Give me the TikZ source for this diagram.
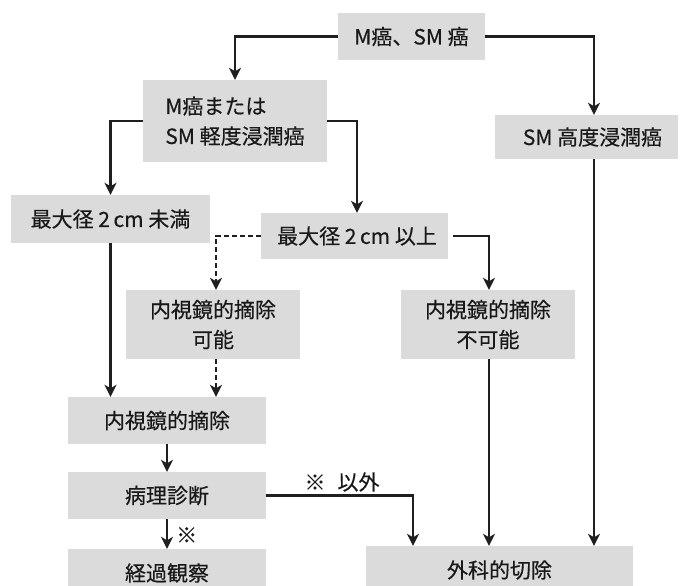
\documentclass[tikz,border=0pt]{standalone}
\usepackage{fontspec}
\setmainfont{Noto Sans CJK JP}[UprightFeatures={FakeBold=0.4}]
\usetikzlibrary{arrows.meta,calc}
\begin{document}
\begin{tikzpicture}[x=1pt,y=-1pt,
  box/.style={draw=none,fill=gray!28,inner sep=0pt,font=\fontsize{21pt}{30pt}\selectfont,align=center,text=black!90},
  conn/.style={draw=black!88,line width=2.8pt},
  arr/.style={conn,-{Stealth[length=12pt,width=12pt,inset=3.5pt]}},
  darr/.style={arr,dash pattern=on 5pt off 3pt},
  lbl/.style={font=\fontsize{21pt}{24pt}\selectfont,text=black!90,inner sep=0pt}]
\useasboundingbox (0,0) rectangle (680,586);
\fill[white] (0,0) rectangle (680,586);
\node[box,minimum width=147pt,minimum height=47pt] (b1) at (411.5,36.5) {M癌、SM 癌};
\node[box,minimum width=184pt,minimum height=82pt,align=left] (b2) at (235,121) {M癌または\\SM 軽度浸潤癌};
\node[box,minimum width=183pt,minimum height=44pt] (b3) at (586.5,137) {\hspace*{12pt}SM 高度浸潤癌};
\node[box,minimum width=199pt,minimum height=48pt] (b4) at (110.5,219) {最大径 2\,cm 未満};
\node[box,minimum width=187pt,minimum height=46pt] (b5) at (354.5,236) {\hspace*{5pt}最大径 2\,cm 以上};
\node[box,minimum width=174pt,minimum height=69pt] (b6) at (213,324.5) {内視鏡的摘除\\可能};
\node[box,minimum width=174pt,minimum height=69pt] (b7) at (488,324.5) {内視鏡的摘除\\不可能};
\node[box,minimum width=198pt,minimum height=47pt] (b8) at (167,420.5) {内視鏡的摘除};
\node[box,minimum width=198pt,minimum height=47pt] (b9) at (167,495.5) {病理診断};
\node[box,minimum width=198pt,minimum height=48pt] (b10) at (167,573) {経過観察};
\node[box,minimum width=267pt,minimum height=48pt] (b11) at (499.5,570) {外科的切除};
\node[lbl] (l1) at (342,482) {※\hspace{12pt}以外};
\node[lbl,anchor=west] (l2) at (176,535) {※};
% connectors
\draw[arr] (b1.west) -| (b2.north);
\draw[arr] (b1.east) -| ([xshift=7.5pt]b3.north);
\draw[arr] (b2.west) -| (b4.north);
\draw[arr] (b2.east) -| ([xshift=2.5pt]b5.north);
\draw[darr] (b5.west) -| ([xshift=3pt]b6.north);
\draw[arr] ([xshift=5pt]b5.east) -| ([xshift=1pt]b7.north);
\draw[darr] ([xshift=3pt]b6.south) -- ([xshift=3pt]b6.south |- b8.north);
\draw[arr] (b4.south) -- (b4.south |- b8.north);
\draw[arr] (b8.south) -- (b9.north);
\draw[arr] (b9.south) -- (b10.north);
\draw[arr] (b9.east) -| ([xshift=-86.5pt]b11.north);
\draw[arr] ([xshift=1pt]b7.south) -- ([xshift=1pt]b7.south |- b11.north);
\draw[arr] ([xshift=7.5pt]b3.south) -- ([xshift=7.5pt]b3.south |- b11.north);
\end{tikzpicture}
\end{document}
